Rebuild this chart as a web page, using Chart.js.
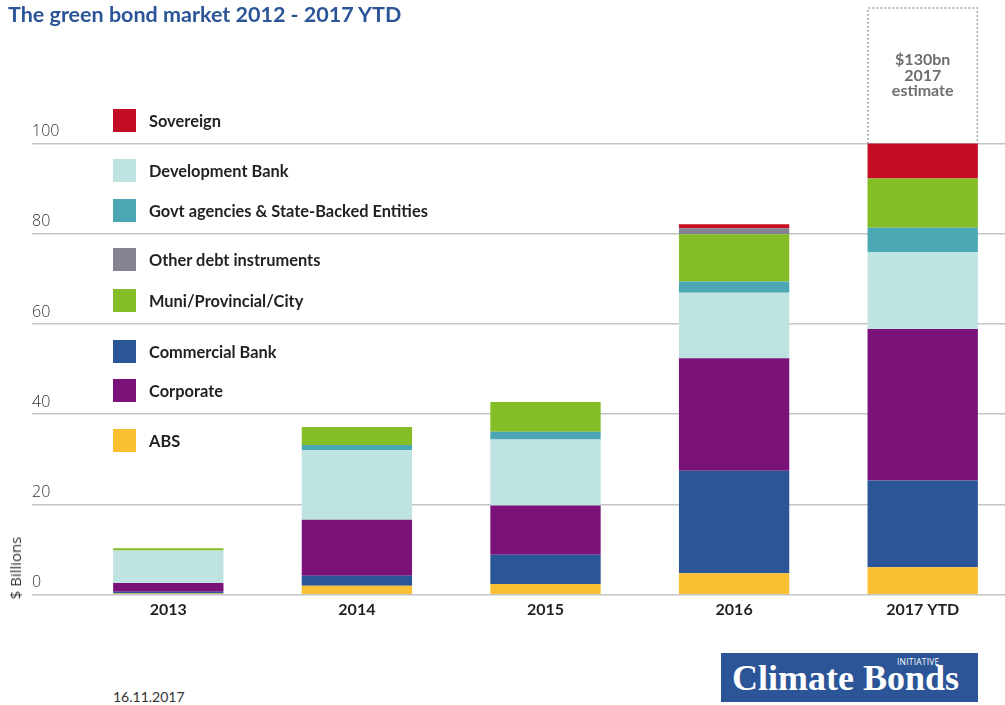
<!DOCTYPE html>
<html>
<head>
<meta charset="utf-8">
<script src="https://cdn.jsdelivr.net/npm/chart.js@4.4.1/dist/chart.umd.min.js"></script>
<style>
  html, body { margin: 0; padding: 0; background: #fff; overflow: hidden; }
  #wrap { position: relative; width: 1017px; height: 705px; }
  #chart { position: absolute; left: 0; top: 0; }
  .title { position: absolute; left: 8px; top: 1px; font: 700 21.5px Lato, sans-serif; color: #2b5597; white-space: nowrap; }
  .axis-title { position: absolute; left: 15px; top: 568px; transform: translate(-50%, -50%) rotate(-90deg); font: 400 15px "Open Sans", sans-serif; color: #333; white-space: nowrap; }
  .legend-item { position: absolute; left: 113px; height: 23px; display: flex; align-items: center; }
  .legend-item .swatch { width: 23px; height: 23px; margin-right: 13px; }
  .legend-item span { font: 700 16.4px Lato, sans-serif; color: #231f20; white-space: nowrap; }
  .date { position: absolute; left: 113px; top: 688px; font: 400 14px Lato, sans-serif; color: #333; }
  .logo { position: absolute; left: 721px; top: 653px; width: 257px; height: 49px; background: #2b5597; }
  .logo .name { position: absolute; left: 11px; top: 4px; font: 700 36px "Liberation Serif", serif; color: #fff; white-space: nowrap; }
  .logo .sub { position: absolute; left: 176px; top: 3px; font: 400 8.5px "Open Sans", sans-serif; color: #fff; letter-spacing: 0.2px; }
</style>
</head>
<body>
<div id="wrap">
  <canvas id="chart" width="1017" height="640"></canvas>
  <div class="title">The green bond market 2012 - 2017 YTD</div>
  <div class="axis-title">$ Billions</div>
  <div id="legend"></div>
  <div class="date">16.11.2017</div>
  <div class="logo"><div class="name">Climate Bonds</div><div class="sub">INITIATIVE</div></div>
</div>
<script>
const years = ["2013", "2014", "2015", "2016", "2017 YTD"];
const yTicks = [0, 20, 40, 60, 80, 100];

// issuance by issuer type, $ billions
const abs = [0.3, 2.0, 2.4, 4.8, 6.1];
const commercialBank = [0.4, 2.2, 6.5, 22.7, 19.2];
const corporate = [1.9, 12.4, 10.9, 24.9, 33.6];
const developmentBank = [7.2, 15.4, 14.6, 14.5, 17.0];
const govtAgencies = [0, 1.2, 1.7, 2.5, 5.4];
const muni = [0.5, 4.0, 6.6, 10.5, 10.9];
const otherDebt = [0, 0, 0, 1.3, 0];
const sovereign = [0, 0, 0, 0.9, 7.8];

const estimateTotal = 130;
const estimateLines = ["$130bn", "2017", "estimate"];

const series = [
  { label: "ABS", data: abs, color: "#fbbf33" },
  { label: "Commercial Bank", data: commercialBank, color: "#2a5597" },
  { label: "Corporate", data: corporate, color: "#7a127a" },
  { label: "Development Bank", data: developmentBank, color: "#bfe3e1" },
  { label: "Govt agencies & State-Backed Entities", data: govtAgencies, color: "#4aa7b3" },
  { label: "Muni/Provincial/City", data: muni, color: "#84bd26" },
  { label: "Other debt instruments", data: otherDebt, color: "#838291" },
  { label: "Sovereign", data: sovereign, color: "#c30d23" },
];

// legend order top to bottom, with the row centres
const legendOrder = ["Sovereign", "Development Bank", "Govt agencies & State-Backed Entities",
  "Other debt instruments", "Muni/Provincial/City", "Commercial Bank", "Corporate", "ABS"];
const legendRows = [120, 170, 210, 259.5, 300, 351, 390, 440];

const lastIdx = years.length - 1;
const ytdTotal = series.reduce((sum, s) => sum + s.data[lastIdx], 0);
const estimateData = years.map((_, i) => i === lastIdx ? estimateTotal - ytdTotal : null);

const legend = document.getElementById("legend");
legend.innerHTML = legendOrder.map((name, i) => {
  const s = series.find(item => item.label === name);
  return `<div class="legend-item" style="top:${legendRows[i] - 11.5}px">
    <div class="swatch" style="background:${s.color}"></div><span>${name}</span></div>`;
}).join("");

// dotted outline and caption for the full-year estimate
const estimateBox = {
  id: "estimateBox",
  afterDatasetsDraw(chart) {
    const meta = chart.getDatasetMeta(series.length);
    const bar = meta.data[lastIdx];
    if (!bar) return;
    const { x, y, base, width } = bar.getProps(["x", "y", "base", "width"], true);
    const left = x - width / 2;
    const right = x + width / 2;
    const ctx = chart.ctx;
    ctx.save();
    ctx.strokeStyle = "#8a8a8a";
    ctx.lineWidth = 1.5;
    ctx.setLineDash([1.5, 2.5]);
    ctx.beginPath();
    ctx.moveTo(left + 0.5, base);
    ctx.lineTo(left + 0.5, y);
    ctx.lineTo(right - 0.5, y);
    ctx.lineTo(right - 0.5, base);
    ctx.stroke();
    ctx.setLineDash([]);
    ctx.fillStyle = "#6d6e71";
    ctx.font = "700 16px Lato, sans-serif";
    ctx.textAlign = "center";
    ctx.textBaseline = "middle";
    estimateLines.forEach((line, i) => {
      ctx.fillText(line, x, y + 52 + i * 15.5);
    });
    ctx.restore();
  }
};

const datasets = series.map(s => ({
  label: s.label,
  data: s.data,
  backgroundColor: s.color,
  borderWidth: 0,
  stack: "issuance",
}));
datasets.push({
  label: "2017 estimate",
  data: estimateData,
  backgroundColor: "rgba(0,0,0,0)",
  borderWidth: 0,
  stack: "issuance",
});

new Chart(document.getElementById("chart"), {
  type: "bar",
  data: { labels: years, datasets },
  options: {
    responsive: false,
    animation: false,
    layout: { padding: { left: 32, top: 7, right: 0, bottom: 16 } },
    datasets: { bar: { barPercentage: 0.585, categoryPercentage: 1 } },
    plugins: {
      legend: { display: false },
      tooltip: { enabled: false },
    },
    scales: {
      x: {
        stacked: true,
        grid: { display: false, drawTicks: false },
        border: { display: false },
        ticks: {
          color: "#231f20",
          padding: 5,
          font: { family: "Lato, sans-serif", size: 16, weight: "700" },
        },
      },
      y: {
        stacked: true,
        min: 0,
        max: estimateTotal,
        afterBuildTicks: scale => { scale.ticks = yTicks.map(v => ({ value: v })); },
        afterFit: scale => { scale.width = 42; },
        border: { display: false },
        grid: { color: "#c4c4c4", lineWidth: 1.5, tickLength: 42, tickColor: "#c4c4c4" },
        ticks: {
          color: "#333",
          crossAlign: "far",
          labelOffset: -12,
          padding: 0,
          font: { family: "'Open Sans', sans-serif", size: 16, weight: "300", lineHeight: 1 },
        },
      },
    },
  },
  plugins: [estimateBox],
});
</script>
</body>
</html>
